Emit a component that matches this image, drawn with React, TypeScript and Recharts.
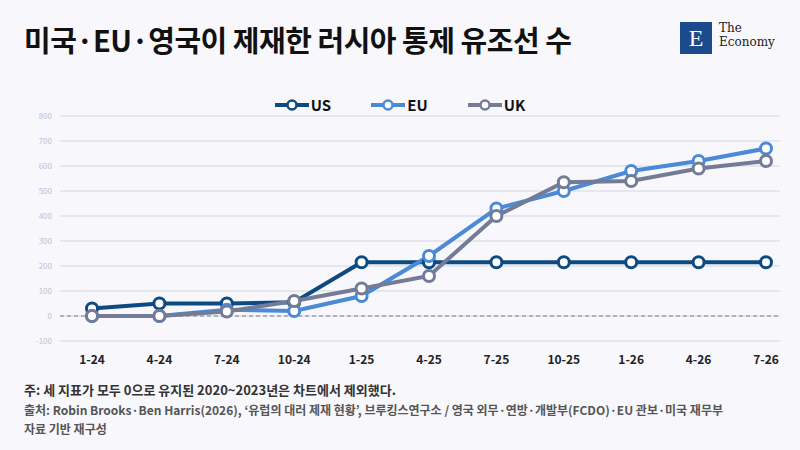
import React from 'react';
import { LineChart, Line, XAxis, YAxis, CartesianGrid, ReferenceLine } from 'recharts';

const categories = ['1-24', '4-24', '7-24', '10-24', '1-25', '4-25', '7-25', '10-25', '1-26', '4-26', '7-26'];
const usValues = [30, 50, 50, 55, 215, 215, 215, 215, 215, 215, 215];
const euValues = [0, 0, 25, 20, 80, 240, 430, 500, 580, 620, 670];
const ukValues = [0, 0, 18, 60, 110, 160, 400, 535, 540, 590, 620];
const yTicks = [-100, 0, 100, 200, 300, 400, 500, 600, 700, 800];

const series = [
  { key: 'US', color: '#0e4a82' },
  { key: 'EU', color: '#4a8ad6' },
  { key: 'UK', color: '#737b96' },
];

const data = categories.map((c, i) => ({ name: c, US: usValues[i], EU: euValues[i], UK: ukValues[i] }));

const font = '"Noto Sans CJK KR", "Noto Sans", sans-serif';

export default function App() {
  return (
    <div style={{ position: 'absolute', left: 0, top: 0, width: 800, height: 450, background: '#f7f7fc', fontFamily: font, overflow: 'hidden' }}>
      <div style={{ position: 'absolute', left: 24, top: 18, fontSize: 29, fontWeight: 700, color: '#111', letterSpacing: -0.5 }}>
        미국·EU·영국이 제재한 러시아 통제 유조선 수
      </div>
      <div style={{ position: 'absolute', left: 680, top: 22, width: 32, height: 32, background: '#1c4b8c', color: '#fff', fontFamily: 'serif', fontSize: 24, textAlign: 'center', lineHeight: '32px' }}>E</div>
      <div style={{ position: 'absolute', left: 719, top: 21, fontFamily: '"DejaVu Serif", serif', fontSize: 12, lineHeight: '14px', color: '#222' }}>The<br />Economy</div>

      <div style={{ position: 'absolute', top: 94, left: 0, width: 800, display: 'flex', justifyContent: 'center', gap: 40, fontSize: 15, fontWeight: 700, color: '#111' }}>
        {series.map(s => (
          <div key={s.key} style={{ display: 'flex', alignItems: 'center', gap: 2 }}>
            <svg width={34} height={14}>
              <line x1={0} y1={7} x2={34} y2={7} stroke={s.color} strokeWidth={4} />
              <circle cx={17} cy={7} r={4.5} fill="#fff" stroke={s.color} strokeWidth={2.5} />
            </svg>
            <span>{s.key}</span>
          </div>
        ))}
      </div>

      <div style={{ position: 'absolute', left: 0, top: 0 }}>
        <LineChart width={800} height={370} data={data} margin={{ top: 116, right: 20, bottom: 0, left: 0 }}>
          <CartesianGrid vertical={false} stroke="#d3d7df" />
          <XAxis dataKey="name" scale="point" padding={{ left: 32, right: 14 }} axisLine={false} tickLine={false}
            tick={{ fill: '#222', fontSize: 12, fontWeight: 700, fontFamily: font }} height={29} tickMargin={8} />
          <YAxis domain={[-100, 800]} ticks={yTicks} interval={0} axisLine={false} tickLine={false} width={60}
            tick={{ fill: '#bcc3cf', fontSize: 8, fontFamily: font }} />
          <ReferenceLine y={0} stroke="#7a7f8a" strokeDasharray="4 3" />
          {series.map(s => (
            <Line key={s.key} dataKey={s.key} stroke={s.color} strokeWidth={4} isAnimationActive={false}
              dot={{ r: 5.5, fill: '#fff', stroke: s.color, strokeWidth: 3 }} />
          ))}
        </LineChart>
      </div>

      <div style={{ position: 'absolute', left: 24, top: 380, fontSize: 13, fontWeight: 700, color: '#333' }}>
        주: 세 지표가 모두 0으로 유지된 2020~2023년은 차트에서 제외했다.
      </div>
      <div style={{ position: 'absolute', left: 24, top: 400, width: 740, fontSize: 12, fontWeight: 700, color: '#555', lineHeight: '19px' }}>
        출처: Robin Brooks·Ben Harris(2026), ‘유럽의 대러 제재 현황’, 브루킹스연구소 / 영국 외무·연방·개발부(FCDO)·EU 관보·미국 재무부<br />자료 기반 재구성
      </div>
    </div>
  );
}
